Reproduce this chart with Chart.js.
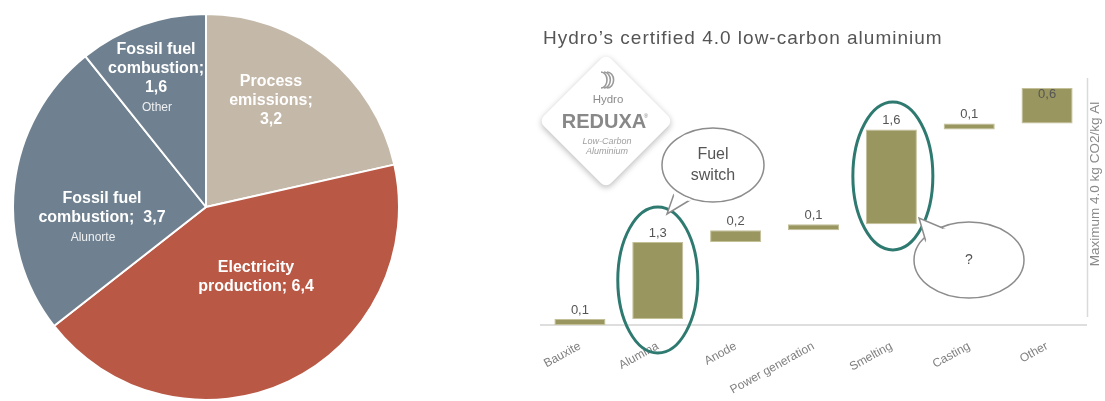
<html>
<head>
<script src="https://cdn.jsdelivr.net/npm/chart.js"></script>
<style>
  body { margin: 0; background: #fff; }
  #pieBox { position: absolute; left: 12px; top: 13px; width: 388px; height: 388px; }
  #barBox { position: absolute; left: 520px; top: 0; width: 585px; height: 401px; }
</style>
</head>
<body>
<div id="pieBox"><canvas id="pieChart"></canvas></div>
<div id="barBox"><canvas id="barChart"></canvas></div>

<script>
// pie data (Mt CO2 by source)
const pieLabels = ['Process emissions', 'Electricity production', 'Fossil fuel combustion (Alunorte)', 'Fossil fuel combustion (Other)'];
const pieValues = [3.2, 6.4, 3.7, 1.6];
const pieColors = ['#c4b8a9', '#b95845', '#6f8190', '#6f8190'];

// waterfall data (kg CO2/kg Al)
const stages = ['Bauxite', 'Alumina', 'Anode', 'Power generation', 'Smelting', 'Casting', 'Other'];
const increments = [0.1, 1.3, 0.2, 0.1, 1.6, 0.1, 0.6];
const maxValue = 4.0;

const fmt = v => v.toFixed(1).replace('.', ',');

// floating ranges for the waterfall
let running = 0;
const ranges = increments.map(v => {
    const r = [running, running + v];
    running += v;
    return r;
});

// text drawn inside the pie, offsets from the pie centre
const pieText = [
    { dx: 65, dy: -125, lines: ['Process', 'emissions;', '3,2'], small: null },
    { dx: 50, dy: 61, lines: ['Electricity', 'production; 6,4'], small: null },
    { dx: -104, dy: -8, lines: ['Fossil fuel', 'combustion;  3,7'], small: ['Alunorte', -113] },
    { dx: -50, dy: -157, lines: ['Fossil fuel', 'combustion;', '1,6'], small: ['Other', -49] }
];

const pieLabelPlugin = {
    id: 'pieLabels',
    afterDatasetsDraw(chart) {
        const ctx = chart.ctx;
        const arc = chart.getDatasetMeta(0).data[0];
        const cx = arc.x, cy = arc.y;
        ctx.save();
        ctx.textAlign = 'center';
        ctx.textBaseline = 'middle';
        ctx.fillStyle = '#ffffff';
        pieText.forEach(t => {
            ctx.font = 'bold 16px "Liberation Sans", Arial, sans-serif';
            t.lines.forEach((l, i) => {
                ctx.fillText(l, cx + t.dx, cy + t.dy + i * 18.7);
            });
            if (t.small) {
                ctx.font = '12px "Liberation Sans", Arial, sans-serif';
                ctx.fillStyle = '#eef0f2';
                ctx.fillText(t.small[0], cx + t.small[1], cy + t.dy + t.lines.length * 18.7 + (t.lines.length == 3 ? 2 : 1));
                ctx.fillStyle = '#ffffff';
            }
        });
        ctx.restore();
    }
};

new Chart(document.getElementById('pieChart').getContext('2d'), {
    type: 'pie',
    data: {
        labels: pieLabels,
        datasets: [{
            data: pieValues,
            backgroundColor: pieColors,
            borderColor: '#ffffff',
            borderWidth: 2
        }]
    },
    options: {
        responsive: true,
        maintainAspectRatio: false,
        animation: false,
        layout: { padding: 0 },
        plugins: { legend: { display: false }, tooltip: { enabled: false } }
    },
    plugins: [pieLabelPlugin]
});

function ellipse(ctx, x, y, rx, ry) {
    ctx.beginPath();
    ctx.ellipse(x, y, rx, ry, 0, 0, Math.PI * 2);
    ctx.stroke();
}

function bubble(ctx, x, y, rx, ry, tail) {
    // ellipse body with a small pointer
    ctx.beginPath();
    ctx.ellipse(x, y, rx, ry, 0, 0, Math.PI * 2);
    ctx.fillStyle = '#ffffff';
    ctx.fill();
    ctx.stroke();
    ctx.beginPath();
    ctx.moveTo(tail[0][0], tail[0][1]);
    ctx.lineTo(tail[1][0], tail[1][1]);
    ctx.lineTo(tail[2][0], tail[2][1]);
    ctx.fill();
    ctx.stroke();
    // cover the ellipse outline between the tail roots
    ctx.beginPath();
    ctx.moveTo(tail[0][0], tail[0][1]);
    ctx.lineTo(tail[2][0], tail[2][1]);
    ctx.strokeStyle = '#ffffff';
    ctx.lineWidth = 2.5;
    ctx.stroke();
}

const waterfallPlugin = {
    id: 'waterfallDecor',
    afterDraw(chart) {
        const ctx = chart.ctx;
        const area = chart.chartArea;
        const bars = chart.getDatasetMeta(0).data;
        const ox = 520; // canvas offset on the page
        ctx.save();

        // title
        ctx.font = '19px "Liberation Sans", Arial, sans-serif';
        ctx.letterSpacing = '1px';
        ctx.fillStyle = '#555555';
        ctx.textAlign = 'left';
        ctx.textBaseline = 'alphabetic';
        ctx.fillText('Hydro\u2019s certified 4.0 low-carbon aluminium', 543 - ox, 44);
        ctx.letterSpacing = '0px';

        // value labels
        ctx.font = '13px "Liberation Sans", Arial, sans-serif';
        ctx.fillStyle = '#555555';
        ctx.textAlign = 'center';
        ctx.textBaseline = 'middle';
        bars.forEach((b, i) => {
            let y = b.y - 9;
            if (y < area.top) y = b.y + 6;
            ctx.fillText(fmt(increments[i]), b.x, y);
        });

        // right marker line + caption
        ctx.strokeStyle = '#dadada';
        ctx.lineWidth = 1.5;
        ctx.beginPath();
        ctx.moveTo(area.right + 1.5, area.top - 10);
        ctx.lineTo(area.right + 1.5, area.bottom - 8);
        ctx.stroke();
        ctx.save();
        ctx.translate(area.right + 9, 184);
        ctx.rotate(-Math.PI / 2);
        ctx.font = '13.5px "Liberation Sans", Arial, sans-serif';
        ctx.fillStyle = '#8a8a8a';
        ctx.textAlign = 'center';
        ctx.textBaseline = 'middle';
        ctx.fillText('Maximum 4.0 kg CO2/kg Al', 0, 0);
        ctx.restore();

        // REDUXA badge
        ctx.save();
        ctx.translate(606 - ox, 121);
        ctx.rotate(Math.PI / 4);
        ctx.shadowColor = 'rgba(0,0,0,0.28)';
        ctx.shadowBlur = 6;
        ctx.shadowOffsetY = 2;
        ctx.fillStyle = '#ffffff';
        ctx.beginPath();
        ctx.roundRect(-47.5, -47.5, 95, 95, 7);
        ctx.fill();
        ctx.restore();
        ctx.strokeStyle = '#9a9a9a';
        ctx.lineWidth = 1.6;
        for (let k = 0; k < 3; k++) {
            ctx.beginPath();
            ctx.ellipse(601 - ox + k * 3, 80, 6 + k * 0.3, 8, 0, -Math.PI / 2, Math.PI / 2);
            ctx.stroke();
        }
        ctx.textAlign = 'center';
        ctx.textBaseline = 'middle';
        ctx.fillStyle = '#8c8c8c';
        ctx.font = '11.5px "Liberation Sans", Arial, sans-serif';
        ctx.fillText('Hydro', 608 - ox, 100);
        ctx.fillStyle = '#888888';
        ctx.font = 'bold 20px "Liberation Sans", Arial, sans-serif';
        ctx.fillText('REDUXA', 604 - ox, 122);
        ctx.font = '6px "Liberation Sans", Arial, sans-serif';
        ctx.fillText('\u00ae', 646 - ox, 116);
        ctx.fillStyle = '#a0a0a0';
        ctx.font = 'italic 9px "Liberation Sans", Arial, sans-serif';
        ctx.fillText('Low-Carbon', 607 - ox, 141);
        ctx.fillText('Aluminium', 607 - ox, 151);

        // teal highlight ellipses
        ctx.strokeStyle = '#2f7a70';
        ctx.lineWidth = 3;
        ellipse(ctx, bars[1].x, 280, 40, 73);
        ellipse(ctx, bars[4].x + 1.5, 176, 40, 74);

        // speech bubbles
        ctx.strokeStyle = '#8c8c8c';
        ctx.lineWidth = 1.5;
        bubble(ctx, 713 - ox, 165, 51, 37, [[674 - ox, 194], [667 - ox, 214], [690 - ox, 200]]);
        ctx.strokeStyle = '#8c8c8c';
        ctx.lineWidth = 1.5;
        bubble(ctx, 969 - ox, 260, 55, 38, [[926 - ox, 242], [919 - ox, 218], [945 - ox, 229]]);

        ctx.fillStyle = '#555555';
        ctx.font = '16px "Liberation Sans", Arial, sans-serif';
        ctx.fillText('Fuel', 713 - ox, 155);
        ctx.fillText('switch', 713 - ox, 176);
        ctx.font = '14px "Liberation Sans", Arial, sans-serif';
        ctx.fillText('?', 969 - ox, 260);

        ctx.restore();
    }
};

new Chart(document.getElementById('barChart').getContext('2d'), {
    type: 'bar',
    data: {
        labels: stages,
        datasets: [{
            data: ranges,
            backgroundColor: '#9a9660',
            borderColor: '#c3c098',
            borderWidth: 1,
            borderSkipped: false,
            categoryPercentage: 1,
            barPercentage: 0.656
        }]
    },
    options: {
        responsive: true,
        maintainAspectRatio: false,
        animation: false,
        layout: { padding: { left: 21, right: 19, top: 88, bottom: 0 } },
        plugins: { legend: { display: false }, tooltip: { enabled: false } },
        scales: {
            x: {
                offset: true,
                grid: { display: false },
                border: { display: true, color: '#dedede', width: 2 },
                ticks: {
                    color: '#808080',
                    font: { family: '"Liberation Sans", Arial, sans-serif', size: 12 },
                    minRotation: 29,
                    maxRotation: 29,
                    padding: 6
                },
                afterFit(scale) {
                    scale.height = 76;
                    scale.paddingLeft = 0;
                    scale.paddingRight = 0;
                }
            },
            y: {
                display: false,
                min: 0,
                max: maxValue
            }
        }
    },
    plugins: [waterfallPlugin]
});
</script>
</body>
</html>
